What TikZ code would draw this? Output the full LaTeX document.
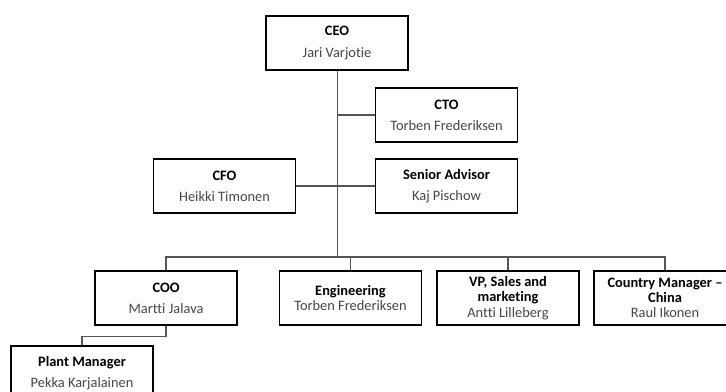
\documentclass[tikz,border=0pt]{standalone}
\usepackage{fontspec}
\setmainfont{Carlito}[Ligatures={TeX,NoCommon}]
\definecolor{namegray}{RGB}{70,70,70}
\definecolor{linegray}{RGB}{85,85,85}
\newcommand{\post}[2]{\textbf{#1}\\[4.5pt]{\color{namegray}#2}}
\newcommand{\posttight}[2]{\textbf{#1}\\{\color{namegray}#2}}
\begin{document}
\begin{tikzpicture}[x=0.75pt,y=-0.75pt,
		orgbox/.style={draw=black, line width=1.4pt, fill=white, minimum width=106.5pt, minimum height=40.5pt,
				align=center, inner sep=0pt, font=\fontsize{10.8}{11.4}\selectfont},
		link/.style={draw=linegray, line width=0.8pt}]
		\useasboundingbox (0,0) rectangle (726,392);
		\clip (0,0) rectangle (726,392);
		\coordinate (bus) at (337.5,257);
		\node[orgbox] (ceo) at (337,43) {\post{CEO}{Jari Varjotie}};
		\node[orgbox] (cto) at (446.5,115) {\post{CTO}{Torben Frederiksen}};
		\node[orgbox] (cfo) at (224.5,186) {\post{CFO}{Heikki Timonen}};
		\node[orgbox] (adv) at (446.5,186) {\post{Senior Advisor}{Kaj Pischow}};
		\node[orgbox] (coo) at (166,298) {\post{COO}{Martti Jalava}};
		\node[orgbox] (eng) at (350.5,298) {\posttight{Engineering}{Torben Frederiksen}};
		\node[orgbox] (vp) at (508,298) {\textbf{VP, Sales and}\\\posttight{marketing}{Antti Lilleberg}};
		\node[orgbox] (cmc) at (665,298) {\textbf{Country Manager –}\\\posttight{China}{Raul Ikonen}};
		\node[orgbox] (plant) at (82,373) {\post{Plant Manager}{Pekka Karjalainen}};
		% reporting lines
		\draw[link] (ceo.south -| bus) -- (bus);
		\draw[link] (ceo.south -| bus) |- (cto.west);
		\draw[link] (cfo.east) -- (adv.west);
		\foreach \unit in {coo,eng,vp,cmc} {
				\draw[link] (bus) -| (\unit.north);
			}
		\draw[link] (coo.south) -- ++(0,11) -| (plant.north);
	\end{tikzpicture}
\end{document}
